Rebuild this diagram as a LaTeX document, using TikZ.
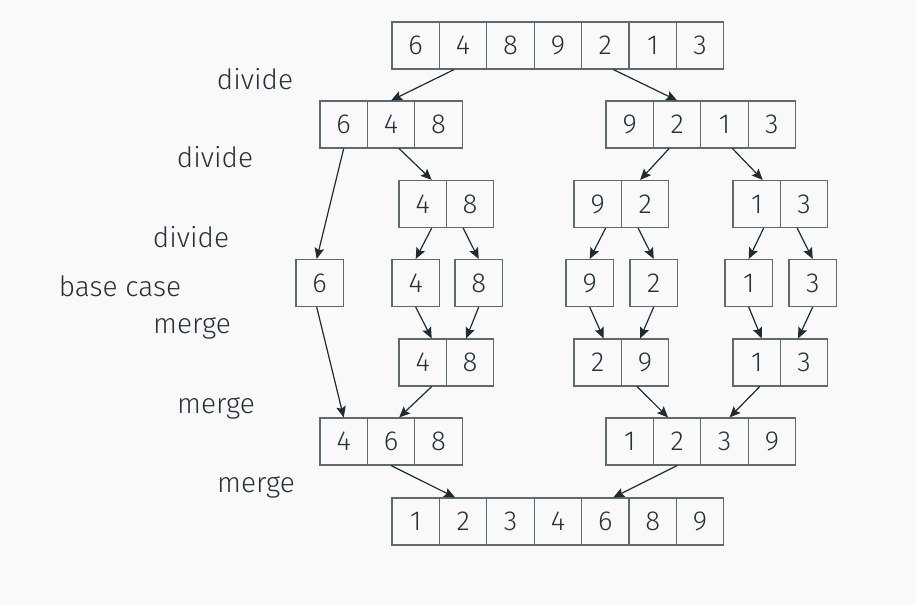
\documentclass[tikz,border=0pt]{standalone}
\usepackage{fontspec}
\setmainfont{Fira Sans Light}
\usetikzlibrary{arrows.meta}
\definecolor{bgc}{HTML}{F9F9F9}
\definecolor{boxc}{HTML}{5E6A70}
\definecolor{txtc}{HTML}{263238}
\definecolor{arrc}{HTML}{1F2B31}
\newcommand\cellrow[4]{%
  \foreach \v [count=\i from 0] in {#4} {%
    \node[cellbox] (#1-\i) at ({#2+23.7+47.4*\i}, #3) {\v};}}
\begin{document}
\begin{tikzpicture}[x=1pt,y=-1pt,
  cellbox/.style={draw=boxc, line width=1.1pt, minimum width=47.4pt, minimum height=47pt,
    inner sep=0pt, text=txtc, font=\fontsize{27.5}{32}\selectfont},
  lbl/.style={anchor=base, text=txtc, font=\fontsize{28}{32}\selectfont, inner sep=0pt},
  arr/.style={draw=arrc, line width=1.2pt, -{Stealth[length=11pt,width=9.5pt,inset=2pt]}}]
\fill[bgc] (0,0) rectangle (916,605);
\useasboundingbox (0,0) rectangle (916,605);
% rows
\cellrow{t}{392}{45.5}{6,4,8,9,2,1,3}
\cellrow{L2}{320}{124.5}{6,4,8}
\cellrow{R2}{606}{124.5}{9,2,1,3}
\cellrow{a48}{399}{204}{4,8}
\cellrow{a92}{574}{204}{9,2}
\cellrow{a13}{733}{204}{1,3}
\cellrow{b6}{296}{283}{6}
\cellrow{b4}{392}{283}{4}
\cellrow{b8}{455}{283}{8}
\cellrow{b9}{566}{283}{9}
\cellrow{b2}{630}{283}{2}
\cellrow{b1}{725}{283}{1}
\cellrow{b3}{789}{283}{3}
\cellrow{m48}{399}{362.5}{4,8}
\cellrow{m29}{574}{362.5}{2,9}
\cellrow{m13}{733}{362.5}{1,3}
\cellrow{f468}{320}{441.5}{4,6,8}
\cellrow{f1239}{606}{441.5}{1,2,3,9}
\cellrow{z}{392}{521.5}{1,2,3,4,6,8,9}
% labels
\node[lbl] (l1) at (255,89) {divide};
\node[lbl] (l2) at (215,167) {divide};
\node[lbl] (l3) at (191,247) {divide};
\node[lbl] (l4) at (120,296) {base case};
\node[lbl] (l5) at (192,333) {merge};
\node[lbl] (l6) at (216,413) {merge};
\node[lbl] (l7) at (256,492) {merge};
% arrows row1 -> row2
\draw[arr] ([xshift=-9pt]t-1.south) -- (L2-1.north);
\draw[arr] ([xshift=8pt]t-4.south) -- (R2-1.north);
% row2 -> row3/4
\draw[arr] (L2-0.south) -- ([xshift=-3pt]b6-0.north);
\draw[arr] ([xshift=8pt]L2-1.south) -- ([xshift=9pt]a48-0.north);
\draw[arr] ([xshift=-8pt]R2-1.south) -- ([xshift=-5pt]a92-1.north);
\draw[arr] ([xshift=8pt]R2-2.south) -- ([xshift=6pt]a13-0.north);
% row3 -> row4
\draw[arr] ([xshift=9pt]a48-0.south) -- (b4-0.north);
\draw[arr] ([xshift=-7pt]a48-1.south) -- (b8-0.north);
\draw[arr] ([xshift=8pt]a92-0.south) -- (b9-0.north);
\draw[arr] ([xshift=-7pt]a92-1.south) -- (b2-0.north);
\draw[arr] ([xshift=7pt]a13-0.south) -- (b1-0.north);
\draw[arr] ([xshift=-7pt]a13-1.south) -- (b3-0.north);
% row4 -> row5
\draw[arr] (b4-0.south) -- ([xshift=9pt]m48-0.north);
\draw[arr] (b8-0.south) -- ([xshift=-4pt]m48-1.north);
\draw[arr] (b9-0.south) -- ([xshift=6pt]m29-0.north);
\draw[arr] (b2-0.south) -- ([xshift=-5pt]m29-1.north);
\draw[arr] (b1-0.south) -- ([xshift=5pt]m13-0.north);
\draw[arr] (b3-0.south) -- ([xshift=-6pt]m13-1.north);
% -> row6
\draw[arr] ([xshift=-3pt]b6-0.south) -- (f468-0.north);
\draw[arr] ([xshift=9pt]m48-0.south) -- ([xshift=8pt]f468-1.north);
\draw[arr] ([xshift=-8pt]m29-1.south) -- ([xshift=-9pt]f1239-1.north);
\draw[arr] ([xshift=3pt]m13-0.south) -- ([xshift=5pt]f1239-2.north);
% row6 -> row7
\draw[arr] (f468-1.south) -- ([xshift=-8pt]z-1.north);
\draw[arr] (f1239-1.south) -- ([xshift=8pt]z-4.north);
\end{tikzpicture}
\end{document}
